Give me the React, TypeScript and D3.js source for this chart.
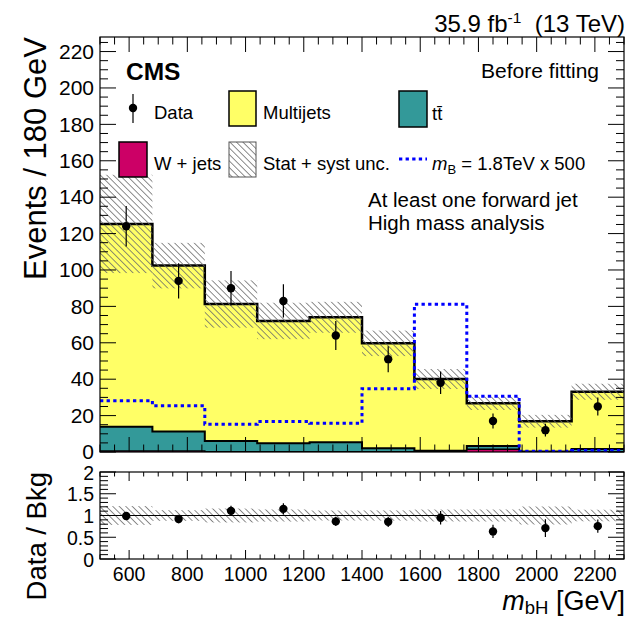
import React from "react";
import * as d3 from "d3";

const binEdges = [500, 680, 860, 1040, 1220, 1400, 1580, 1760, 1940, 2120, 2300];
const multijets = [111.4, 91.2, 75.3, 67.2, 68.7, 57.7, 39.4, 23.5, 16.6, 31.4];
const ttbar = [13.4, 10.7, 5.9, 4.7, 5.2, 1.9, 0.6, 1.8, 0.2, 1.6];
const wjets = [0.5, 0.5, 0.1, 0.1, 0.1, 0.1, 0.1, 1.5, 0.1, 0.1];
const bkgUnc = [27, 12.5, 13, 10, 8.5, 7, 5.5, 3.7, 3.5, 4.4];
const signal = [28.2, 25.4, 15.2, 16.7, 15.8, 34.8, 81.2, 30.6, 0.4, 0.8];
const dataCounts = [124, 94, 90, 83, 64, 51, 38, 17, 12, 25];

const yTicks = [0, 20, 40, 60, 80, 100, 120, 140, 160, 180, 200, 220];
const xTicks = [600, 800, 1000, 1200, 1400, 1600, 1800, 2000, 2200];
const ratioTicks = [0, 0.5, 1, 1.5, 2];
const ratioTickLabels = ["0", "0.5", "1", "1.5", "2"];

const FONT = "'Liberation Sans', Arial, Helvetica, sans-serif";

const L = 100, R = 624;
const mainTop = 37, mainBot = 452;
const rTop = 472, rBot = 559;

export default function App() {
  const x = d3.scaleLinear().domain([500, 2300]).range([L, R]);
  const y = d3.scaleLinear().domain([0, 228]).range([mainBot, mainTop]);
  const yr = d3.scaleLinear().domain([0, 2]).range([rBot, rTop]);

  const n = multijets.length;
  const wTop = wjets.slice();
  const ttTop = wjets.map((w, i) => w + ttbar[i]);
  const total = ttTop.map((t, i) => t + multijets[i]);
  const centers = binEdges.slice(0, n).map((e, i) => (e + binEdges[i + 1]) / 2);

  const stepPts = (vals: number[]) => {
    const pts: [number, number][] = vals.map((v, i) => [binEdges[i], v]);
    pts.push([binEdges[n], vals[n - 1]]);
    return pts;
  };
  const area = d3
    .area<[number, number]>()
    .curve(d3.curveStepAfter)
    .x((d) => x(d[0]))
    .y0(y(0))
    .y1((d) => y(d[1]));
  const line = d3
    .line<[number, number]>()
    .curve(d3.curveStepAfter)
    .x((d) => x(d[0]))
    .y((d) => y(d[1]));

  const xMinor = d3.range(500, 2301, 50);
  const yMinor = d3.range(0, 229, 5);
  const rMinor = d3.range(0, 2.001, 0.1);

  const hatchFill = "url(#hatch)";

  return (
    <svg width={634} height={618} style={{ display: "block", position: "absolute", left: 0, top: 0 }} fontFamily={FONT}>
      <defs>
        <pattern id="hatch" patternUnits="userSpaceOnUse" width={8} height={4.6} patternTransform="rotate(45)">
          <line x1={0} y1={2.3} x2={8} y2={2.3} stroke="#6a6a6a" strokeWidth={0.8} />
        </pattern>
        <clipPath id="mainClip">
          <rect x={L} y={mainTop} width={R - L} height={mainBot - mainTop} />
        </clipPath>
        <clipPath id="ratioClip">
          <rect x={L} y={rTop} width={R - L} height={rBot - rTop} />
        </clipPath>
      </defs>
      <rect x={0} y={0} width={634} height={618} fill="#fff" />

      {/* main stack */}
      <g clipPath="url(#mainClip)">
        <path d={area(stepPts(total)) || ""} fill="#ffff66" />
        <path d={line(stepPts(total)) || ""} fill="none" stroke="#000" strokeWidth={2.5} />
        <path d={area(stepPts(ttTop)) || ""} fill="#339999" />
        <path d={line(stepPts(ttTop)) || ""} fill="none" stroke="#000" strokeWidth={2} />
        <path d={area(stepPts(wTop)) || ""} fill="#cc0066" />
        <path d={line(stepPts(wTop)) || ""} fill="none" stroke="#000" strokeWidth={1.5} />
        {/* uncertainty band */}
        {total.map((t, i) => (
          <rect
            key={"u" + i}
            x={x(binEdges[i])}
            y={y(t + bkgUnc[i])}
            width={x(binEdges[i + 1]) - x(binEdges[i])}
            height={y(t - bkgUnc[i]) - y(t + bkgUnc[i])}
            fill={hatchFill}
          />
        ))}
        {/* signal */}
        <path
          d={line(stepPts(signal)) || ""}
          fill="none"
          stroke="#0000ff"
          strokeWidth={3}
          strokeDasharray="3.3 3.3"
        />
        {/* data */}
        {dataCounts.map((d, i) => {
          const e = Math.sqrt(d);
          return (
            <g key={"d" + i}>
              <line x1={x(centers[i])} x2={x(centers[i])} y1={y(d - e)} y2={y(d + e)} stroke="#000" strokeWidth={1.2} />
              <circle cx={x(centers[i])} cy={y(d)} r={4.2} fill="#000" />
            </g>
          );
        })}
      </g>

      {/* main frame & ticks */}
      <rect x={L} y={mainTop} width={R - L} height={mainBot - mainTop} fill="none" stroke="#000" strokeWidth={1.2} />
      {yMinor.map((v) => {
        const major = v % 20 === 0;
        const len = major ? 16 : 8;
        return (
          <g key={"ym" + v} stroke="#000" strokeWidth={1}>
            <line x1={L} x2={L + len} y1={y(v)} y2={y(v)} />
            <line x1={R} x2={R - len} y1={y(v)} y2={y(v)} />
          </g>
        );
      })}
      {xMinor.map((v) => {
        const major = v % 200 === 0;
        const len = major ? 15 : 7.5;
        return (
          <g key={"xm" + v} stroke="#000" strokeWidth={1}>
            <line x1={x(v)} x2={x(v)} y1={mainBot} y2={mainBot - len} />
            <line x1={x(v)} x2={x(v)} y1={mainTop} y2={mainTop + len} />
          </g>
        );
      })}
      {yTicks.map((v) => (
        <text key={"yl" + v} x={94} y={y(v) + 7.3} fontSize={21} textAnchor="end">
          {v}
        </text>
      ))}

      {/* ratio panel */}
      <g clipPath="url(#ratioClip)">
        {total.map((t, i) => {
          const rel = bkgUnc[i] / t;
          return (
            <rect
              key={"ru" + i}
              x={x(binEdges[i])}
              y={yr(1 + rel)}
              width={x(binEdges[i + 1]) - x(binEdges[i])}
              height={yr(1 - rel) - yr(1 + rel)}
              fill={hatchFill}
            />
          );
        })}
        <line x1={L} x2={R} y1={yr(1)} y2={yr(1)} stroke="#000" strokeWidth={1} />
        {dataCounts.map((d, i) => {
          const r = d / total[i];
          const e = Math.sqrt(d) / total[i];
          return (
            <g key={"r" + i}>
              <line x1={x(centers[i])} x2={x(centers[i])} y1={yr(r - e)} y2={yr(r + e)} stroke="#000" strokeWidth={1.2} />
              <circle cx={x(centers[i])} cy={yr(r)} r={4.2} fill="#000" />
            </g>
          );
        })}
      </g>
      <rect x={L} y={rTop} width={R - L} height={rBot - rTop} fill="none" stroke="#000" strokeWidth={1.2} />
      {rMinor.map((v, k) => {
        const major = k % 5 === 0;
        const len = major ? 16 : 8;
        return (
          <g key={"rm" + k} stroke="#000" strokeWidth={1}>
            <line x1={L} x2={L + len} y1={yr(v)} y2={yr(v)} />
            <line x1={R} x2={R - len} y1={yr(v)} y2={yr(v)} />
          </g>
        );
      })}
      {xMinor.map((v) => {
        const major = v % 200 === 0;
        const len = major ? 9 : 4.5;
        return (
          <g key={"rxm" + v} stroke="#000" strokeWidth={1}>
            <line x1={x(v)} x2={x(v)} y1={rBot} y2={rBot - len} />
            <line x1={x(v)} x2={x(v)} y1={rTop} y2={rTop + len} />
          </g>
        );
      })}
      {ratioTicks.map((v, i) => (
        <text key={"rl" + i} x={94} y={yr(v) + 7.5} fontSize={19.5} textAnchor="end">
          {ratioTickLabels[i]}
        </text>
      ))}
      {xTicks.map((v) => (
        <text key={"xl" + v} x={x(v)} y={581} fontSize={19.5} textAnchor="middle">
          {v}
        </text>
      ))}

      {/* axis titles */}
      <text transform="translate(46,37) rotate(-90)" fontSize={31} textAnchor="end">
        Events / 180 GeV
      </text>
      <text transform="translate(46,472) rotate(-90)" fontSize={27.5} textAnchor="end">
        Data / Bkg
      </text>
      <text x={625} y={610} fontSize={27} textAnchor="end">
        <tspan fontStyle="italic">m</tspan>
        <tspan fontSize={18.5} dy={3.5}>bH</tspan>
        <tspan dy={-3.5}> [GeV]</tspan>
      </text>

      {/* top label */}
      <text x={625} y={32} fontSize={24} textAnchor="end">
        35.9 fb<tspan fontSize={15.5} dy={-9}>-1</tspan>
        <tspan dy={9}>{"\u00a0\u00a0(13 TeV)"}</tspan>
      </text>

      {/* annotations */}
      <text x={126} y={80} fontSize={24.5} fontWeight="bold">CMS</text>
      <text x={599} y={78} fontSize={21} textAnchor="end">Before fitting</text>
      <text x={368} y={207} fontSize={20.5}>At least one forward jet</text>
      <text x={368} y={230} fontSize={20.5}>High mass analysis</text>

      {/* legend */}
      <line x1={133} x2={133} y1={94} y2={123} stroke="#000" strokeWidth={1.2} />
      <circle cx={133} cy={108} r={4.2} fill="#000" />
      <text x={154} y={119} fontSize={18.5}>Data</text>

      <rect x={229} y={91} width={27} height={35} fill="#ffff66" stroke="#000" strokeWidth={1.5} />
      <text x={263} y={119} fontSize={18.5}>Multijets</text>

      <rect x={399} y={91} width={28} height={36} fill="#339999" stroke="#000" strokeWidth={1.5} />
      <text x={432} y={120} fontSize={18.5}>t{"t\u0304"}</text>

      <rect x={119} y={142} width={28} height={35} fill="#cc0066" stroke="#000" strokeWidth={1.5} />
      <text x={154} y={170} fontSize={18.5}>W + jets</text>

      <rect x={229} y={142} width={27} height={35} fill={hatchFill} stroke="#555" strokeWidth={1} />
      <text x={263} y={170} fontSize={18.5}>Stat + syst unc.</text>

      <line x1={399} x2={427} y1={159} y2={159} stroke="#0000ff" strokeWidth={3} strokeDasharray="3.3 3.3" />
      <text x={432} y={170} fontSize={18.5}>
        <tspan fontStyle="italic">m</tspan>
        <tspan fontSize={13} dy={4}>B</tspan>
        <tspan dy={-4}> = 1.8TeV x 500</tspan>
      </text>
    </svg>
  );
}
